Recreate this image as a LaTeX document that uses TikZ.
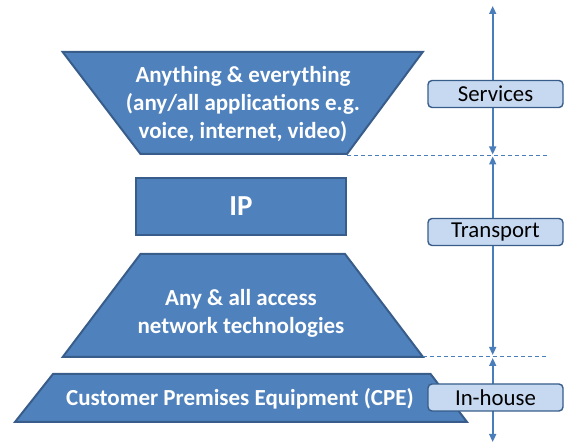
\documentclass[tikz,border=0pt]{standalone}
\usepackage{fontspec}
\setmainfont{Carlito}
\usetikzlibrary{arrows.meta}
\definecolor{fillblue}{HTML}{4F81BD}
\definecolor{edgeblue}{HTML}{385D8A}
\definecolor{lightbox}{HTML}{C6D9F1}
\definecolor{arrowblue}{HTML}{4A7EBB}
\begin{document}
\begin{tikzpicture}[x=1pt,y=-1pt,
  layer/.style={fill=fillblue,draw=edgeblue,line width=2pt,line join=miter},
  layertext/.style={text=white,font=\bfseries\fontsize{23}{28}\selectfont,align=center,inner sep=0pt},
  tag/.style={fill=lightbox,draw=edgeblue,line width=1.4pt,rounded corners=4pt,minimum width=135pt,minimum height=27pt,font=\fontsize{22.8}{25}\selectfont,inner sep=0pt},
  span/.style={draw=arrowblue,line width=1.6pt,{Triangle[length=8pt,width=7pt]}-{Triangle[length=8pt,width=7pt]}},
  divider/.style={draw=arrowblue,line width=0.8pt,dash pattern=on 4pt off 3pt}]
\useasboundingbox (0,0) rectangle (565,443);

% layers
\coordinate (t1) at (62.7,52);
\coordinate (t2) at (422.7,52);
\coordinate (t3) at (347,154);
\coordinate (t4) at (140.5,154);
\draw[layer] (t1) -- (t2) -- (t3) -- (t4) -- cycle;
\node[layertext] (apps) at (243,104) {Anything \& everything\\(any/all applications e.g.\\voice, internet, video)};

\node[layer,minimum width=210pt,minimum height=57pt,inner sep=0pt,text=white,font=\bfseries\fontsize{29}{32}\selectfont] (ip) at (241,206.5) {IP};

\coordinate (a1) at (140.5,254);
\coordinate (a2) at (345,254);
\coordinate (a3) at (423,357);
\coordinate (a4) at (62.7,357);
\draw[layer] (a1) -- (a2) -- (a3) -- (a4) -- cycle;
\node[layertext] (access) at (241,313) {Any \& all access\\network technologies};

\coordinate (c1) at (53,374);
\coordinate (c2) at (430.6,374);
\coordinate (c3) at (467,422);
\coordinate (c4) at (15,422);
\draw[layer] (c1) -- (c2) -- (c3) -- (c4) -- cycle;
\node[layertext] (cpe) at (240,399) {Customer Premises Equipment (CPE)};

% dividers
\coordinate (d1) at (548,155);
\coordinate (d2) at (547,356);
\draw[divider] (t3) ++(0,1) -- (d1);
\draw[divider] (a3) ++(0,-1) -- (d2);

% spans
\coordinate (s0) at (492.7,6);
\coordinate (s1) at (492.7,154.5);
\coordinate (s2) at (492.7,156.5);
\coordinate (s3) at (492.7,355);
\coordinate (s4) at (492.7,358);
\coordinate (s5) at (492.7,442);
\draw[span] (s0) -- (s1);
\draw[span] (s2) -- (s3);
\draw[span] (s4) -- (s5);

% tags
\node[tag] (services) at (495.5,94) {Services};
\node[tag] (transport) at (495.5,232) {Transport};
\node[tag] (inhouse) at (495.5,397.5) {In-house};
\end{tikzpicture}
\end{document}
